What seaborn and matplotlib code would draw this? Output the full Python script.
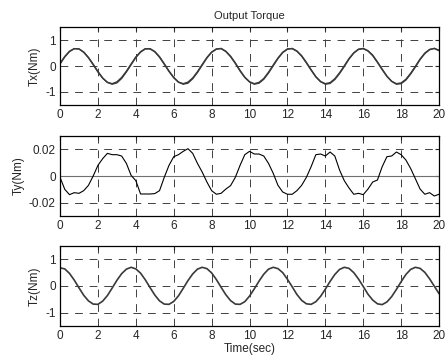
import numpy as np
import pandas as pd
import seaborn as sns
import matplotlib.pyplot as plt

# === DATA (0.25 s steps) ===
time = np.arange(0, 20.01, 0.25)

tx_ref = [0.10, 0.37, 0.57, 0.67, 0.66, 0.53, 0.32, 0.05, -0.23, -0.47, -0.63, -0.68, -0.61, -0.44, -0.20, 0.08,
          0.35, 0.55, 0.67, 0.66, 0.55, 0.34, 0.07, -0.21, -0.45, -0.62, -0.68, -0.62, -0.46, -0.22, 0.06, 0.33,
          0.54, 0.66, 0.67, 0.56, 0.36, 0.10, -0.19, -0.44, -0.61, -0.68, -0.63, -0.48, -0.24, 0.04, 0.31, 0.53,
          0.66, 0.67, 0.57, 0.38, 0.12, -0.16, -0.42, -0.60, -0.68, -0.64, -0.49, -0.26, 0.01, 0.29, 0.51, 0.65,
          0.67, 0.58, 0.40, 0.14, -0.14, -0.40, -0.59, -0.68, -0.65, -0.51, -0.28, -0.01, 0.27, 0.50, 0.64, 0.68,
          0.59]
tx_act = [0.08, 0.35, 0.56, 0.67, 0.66, 0.54, 0.33, 0.07, -0.21, -0.46, -0.63, -0.70, -0.65, -0.48, -0.23, 0.05,
          0.33, 0.54, 0.66, 0.67, 0.56, 0.36, 0.09, -0.19, -0.44, -0.62, -0.70, -0.66, -0.49, -0.25, 0.03, 0.31,
          0.53, 0.65, 0.68, 0.57, 0.38, 0.12, -0.17, -0.43, -0.61, -0.70, -0.66, -0.51, -0.27, 0.01, 0.29, 0.52,
          0.65, 0.68, 0.58, 0.40, 0.14, -0.14, -0.41, -0.60, -0.70, -0.67, -0.52, -0.29, -0.02, 0.27, 0.50, 0.64,
          0.68, 0.59, 0.42, 0.16, -0.12, -0.39, -0.59, -0.70, -0.68, -0.54, -0.31, -0.04, 0.25, 0.48, 0.63, 0.68,
          0.61]
ty = [-0.001, -0.010, -0.014, -0.0125, -0.013, -0.011, -0.007, 0.000, 0.008, 0.013, 0.017, 0.016, 0.016, 0.015,
      0.0095, 0.0005, -0.0035, -0.0135, -0.0135, -0.0135, -0.0132, -0.011, -0.001, 0.008, 0.0145, 0.016, 0.0185,
      0.0205, 0.017, 0.0095, 0.003, -0.0045, -0.011, -0.0137, -0.013, -0.0098, -0.0072, -0.001, 0.008, 0.016,
      0.0185, 0.0165, 0.0165, 0.015, 0.0095, 0.002, -0.007, -0.012, -0.0137, -0.0137, -0.011, -0.007, -0.001,
      0.007, 0.016, 0.0165, 0.015, 0.018, 0.015, 0.0045, -0.0035, -0.009, -0.0137, -0.013, -0.014, -0.0098,
      -0.0045, -0.003, 0.007, 0.0145, 0.015, 0.018, 0.016, 0.012, 0.0057, -0.002, -0.0098, -0.0137, -0.0125,
      -0.015, -0.0137]
tz = [0.68, 0.64, 0.47, 0.22, -0.07, -0.35, -0.56, -0.68, -0.69, -0.57, -0.36, -0.08, 0.21, 0.46, 0.63, 0.70,
      0.64, 0.48, 0.23, -0.06, -0.34, -0.56, -0.68, -0.69, -0.58, -0.37, -0.09, 0.20, 0.45, 0.63, 0.70, 0.65,
      0.49, 0.24, -0.05, -0.33, -0.55, -0.68, -0.69, -0.59, -0.38, -0.11, 0.18, 0.44, 0.63, 0.70, 0.65, 0.50,
      0.25, -0.03, -0.32, -0.54, -0.67, -0.69, -0.59, -0.39, -0.12, 0.17, 0.43, 0.62, 0.70, 0.66, 0.50, 0.26,
      -0.02, -0.31, -0.53, -0.67, -0.70, -0.60, -0.40, -0.13, 0.16, 0.43, 0.62, 0.70, 0.66, 0.51, 0.27, -0.01,
      -0.29]

df = pd.DataFrame({'time': time, 'tx_ref': tx_ref, 'tx_act': tx_act, 'ty': ty, 'tz': tz})

# === STYLE ===
sns.set_style('white')
plt.rcParams['font.family'] = ['Liberation Sans', 'DejaVu Sans']
plt.rcParams['font.size'] = 8.5

fig = plt.figure(figsize=(4.48, 3.57), dpi=100)
left, width = 0.134, 0.846
ax1 = fig.add_axes([left, 0.706, width, 0.218])
ax2 = fig.add_axes([left, 0.395, width, 0.224])
ax3 = fig.add_axes([left, 0.087, width, 0.224])

line_kw = dict(color='#3a3a3a', linewidth=1.0, legend=False)
sns.lineplot(data=df, x='time', y='tx_ref', ax=ax1, **line_kw)
sns.lineplot(data=df, x='time', y='tx_act', ax=ax1, **line_kw)
ax2.axhline(0, color='#707070', linewidth=0.8)
sns.lineplot(data=df, x='time', y='ty', ax=ax2, color='black', linewidth=0.8, legend=False)
sns.lineplot(data=df, x='time', y='tz', ax=ax3, color='#3a3a3a', linewidth=1.2, legend=False)

for ax, lab, ylim, yt, ytl in [
    (ax1, 'Tx(Nm)', (-1.5, 1.5), [-1, 0, 1], ['-1', '0', '1']),
    (ax2, 'Ty(Nm)', (-0.03, 0.03), [-0.02, 0, 0.02], ['-0.02', '0', '0.02']),
    (ax3, 'Tz(Nm)', (-1.5, 1.5), [-1, 0, 1], ['-1', '0', '1']),
]:
    ax.set_xlim(0, 20)
    ax.set_ylim(*ylim)
    ax.set_xticks(range(0, 21, 2))
    ax.set_yticks(yt)
    ax.set_yticklabels(ytl)
    ax.set_ylabel(lab, labelpad=3)
    ax.set_xlabel('')
    ax.grid(True, color='#404040', linestyle=(0, (8, 7)), linewidth=0.7)
    ax.tick_params(direction='in', length=3, top=True, right=True, pad=3, labelsize=8.5)
    for s in ax.spines.values():
        s.set_color('black')
        s.set_linewidth(0.9)

ax1.set_title('Output Torque', fontsize=8, pad=6)
ax3.set_xlabel('Time(sec)', labelpad=1)

fig.savefig('out.png', dpi=100)
